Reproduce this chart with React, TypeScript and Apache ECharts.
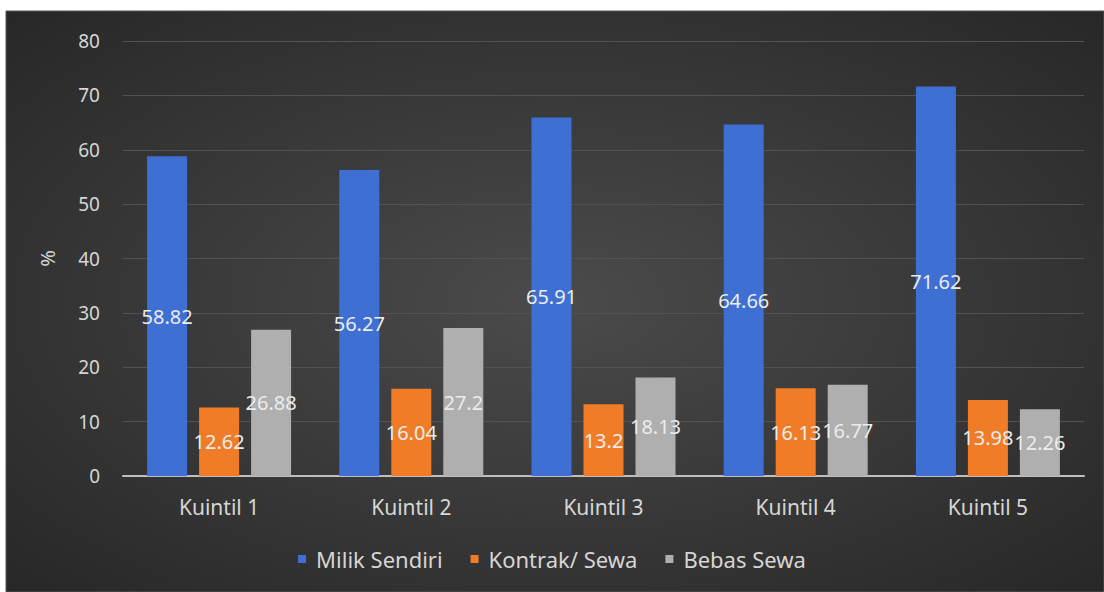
import React, { useEffect, useRef } from "react";
import * as echarts from "echarts";

const categories = ["Kuintil 1", "Kuintil 2", "Kuintil 3", "Kuintil 4", "Kuintil 5"];
const milikSendiri = [58.82, 56.27, 65.91, 64.66, 71.62];
const kontrakSewa = [12.62, 16.04, 13.2, 16.13, 13.98];
const bebasSewa = [26.88, 27.2, 18.13, 16.77, 12.26];
const seriesNames = ["Milik Sendiri", "Kontrak/ Sewa", "Bebas Sewa"];
const yTicks = { min: 0, max: 80, interval: 10 };

const FONT = "'Noto Sans', 'Open Sans', sans-serif";

export default function App() {
  const ref = useRef<HTMLDivElement>(null);
  useEffect(() => {
    if (!ref.current) return;
    const chart = echarts.init(ref.current, undefined, { renderer: "svg" });
    const label = {
      show: true,
      position: "inside",
      color: "#ececec",
      fontSize: 20,
      fontFamily: FONT,
    };
    const mk = (name: string, data: number[], color: string) => ({
      name,
      type: "bar",
      data,
      barWidth: 40,
      barGap: "30%",
      itemStyle: { color },
      label,
    });
    chart.setOption({
      animation: false,
      backgroundColor: "#ffffff",
      graphic: [
        {
          type: "rect",
          silent: true,
          z: -100,
          shape: { x: 6, y: 11, width: 1098, height: 581 },
          style: {
            fill: new echarts.graphic.RadialGradient(0.5, 0.5, 0.75, [
              { offset: 0, color: "#4b4b4b" },
              { offset: 1, color: "#252525" },
            ]),
            stroke: "#575757",
            lineWidth: 1,
          },
        },
      ],
      grid: { left: 123, right: 20, top: 41, bottom: 116, containLabel: false },
      legend: {
        data: seriesNames,
        bottom: 17,
        left: "center",
        itemWidth: 8,
        itemHeight: 8,
        itemGap: 28,
        icon: "rect",
        textStyle: { color: "#d6d6d6", fontSize: 22, fontFamily: FONT, padding: [0, 0, 0, 5] },
      },
      xAxis: {
        type: "category",
        data: categories,
        axisTick: { show: false },
        axisLine: { lineStyle: { color: "#bfbfbf", width: 2 } },
        axisLabel: { color: "#d6d6d6", fontSize: 21, fontFamily: FONT, margin: 20 },
      },
      yAxis: {
        type: "value",
        min: yTicks.min,
        max: yTicks.max,
        interval: yTicks.interval,
        name: "%",
        nameLocation: "middle",
        nameGap: 66,
        nameTextStyle: { color: "#d6d6d6", fontSize: 20, fontFamily: FONT },
        axisLine: { show: false },
        axisTick: { show: false },
        axisLabel: { color: "#d6d6d6", fontSize: 19, fontFamily: FONT, margin: 23 },
        splitLine: { lineStyle: { color: "#525252", width: 1 } },
      },
      series: [
        mk(seriesNames[0], milikSendiri, "#3e6fd3"),
        mk(seriesNames[1], kontrakSewa, "#f07c28"),
        mk(seriesNames[2], bebasSewa, "#afafaf"),
      ],
    });
    return () => chart.dispose();
  }, []);
  return (
    <div
      ref={ref}
      style={{ position: "fixed", left: 0, top: 0, width: 1104, height: 592 }}
    />
  );
}
